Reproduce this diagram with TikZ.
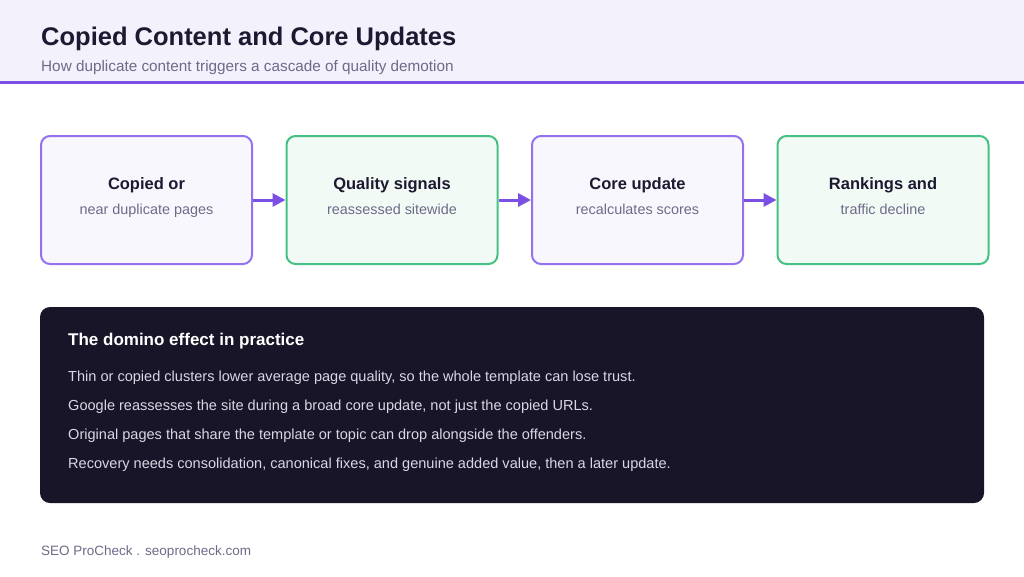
\documentclass[tikz,border=0pt]{standalone}
\usepackage{fontspec}
\setmainfont{Liberation Sans}
\usetikzlibrary{arrows.meta}
\usetikzlibrary{positioning}
\definecolor{headbg}{HTML}{F3F1FC}
\definecolor{violet}{HTML}{7B4FE3}
\definecolor{violetline}{HTML}{9372EE}
\definecolor{violetfill}{HTML}{F8F7FE}
\definecolor{greenline}{HTML}{45C283}
\definecolor{greenfill}{HTML}{F1FAF5}
\definecolor{ink}{HTML}{1C1930}
\definecolor{muted}{HTML}{6F6A88}
\definecolor{night}{HTML}{181528}
\definecolor{pale}{HTML}{D9D7E3}
\tikzset{pbox/.style={draw=violetline, fill=violetfill, line width=2pt, rounded corners=9pt,
  minimum width=211pt, minimum height=128pt, inner sep=0pt},
  gbox/.style={pbox, draw=greenline, fill=greenfill},
  boxtitle/.style={anchor=base, inner sep=0pt, text=ink, font=\fontsize{16.5}{20}\selectfont\bfseries},
  boxsub/.style={anchor=base, inner sep=0pt, text=muted, font=\fontsize{14.4}{17}\selectfont},
  flow/.style={violet, line width=3pt, -{Triangle[length=13pt,width=13pt]}},
  bodyline/.style={anchor=base west, inner sep=0pt, text=pale, font=\fontsize{14.55}{17}\selectfont}}

\begin{document}
\begin{tikzpicture}[x=1pt, y=-1pt]
    \useasboundingbox (0,0) rectangle (1024,576);
    \fill [white] (0,0) rectangle (1024,576);
    % header
    \fill [headbg] (0,0) rectangle (1024,82.5);
    \draw [violet, line width=3pt] (0,82.5) -- (1024,82.5);
    \node [anchor=base west, inner sep=0pt, text=ink, font=\fontsize{25.5}{30}\selectfont\bfseries] (title) at (41,45) {Copied Content and Core Updates};
    \node [anchor=base west, inner sep=0pt, text=muted, font=\fontsize{15.3}{18}\selectfont] (subtitle) at (41,71) {How duplicate content triggers a cascade of quality demotion};

    % the four steps
    \node [pbox] (copied) at (146.5,200) {};
    \node [gbox, right=32.5pt of copied] (signals) {};
    \node [pbox, right=32.5pt of signals] (core) {};
    \node [gbox, right=32.5pt of core] (rankings) {};
    \node [boxtitle] at ([yshift=11pt]copied.center) {Copied or};
    \node [boxsub] at ([yshift=-14pt]copied.center) {near duplicate pages};
    \node [boxtitle] at ([yshift=11pt]signals.center) {Quality signals};
    \node [boxsub] at ([yshift=-14pt]signals.center) {reassessed sitewide};
    \node [boxtitle] at ([yshift=11pt]core.center) {Core update};
    \node [boxsub] at ([yshift=-14pt]core.center) {recalculates scores};
    \node [boxtitle] at ([yshift=11pt]rankings.center) {Rankings and};
    \node [boxsub] at ([yshift=-14pt]rankings.center) {traffic decline};
    \draw [flow] (copied) -- (signals);
    \draw [flow] (signals) -- (core);
    \draw [flow] (core) -- (rankings);

    % dark panel
    \node [fill=night, rounded corners=10pt, minimum width=944pt, minimum height=196pt, inner sep=0pt] (domino) at (512,405) {};
    \node [anchor=base west, inner sep=0pt, text=white, font=\fontsize{17}{20}\selectfont\bfseries] (dominohead) at (68,345) {The domino effect in practice};
    \node [bodyline] (thin) at (68,381) {Thin or copied clusters lower average page quality, so the whole template can lose trust.};
    \node [bodyline] (google) at (68,410) {Google reassesses the site during a broad core update, not just the copied URLs.};
    \node [bodyline] (original) at (68,439) {Original pages that share the template or topic can drop alongside the offenders.};
    \node [bodyline] (recovery) at (68,468) {Recovery needs consolidation, canonical fixes, and genuine added value, then a later update.};

    % footer
    \node [anchor=base west, inner sep=0pt, text=muted, font=\fontsize{13.5}{16}\selectfont] (footer) at (41,555) {SEO ProCheck . seoprocheck.com};
\end{tikzpicture}
\end{document}
